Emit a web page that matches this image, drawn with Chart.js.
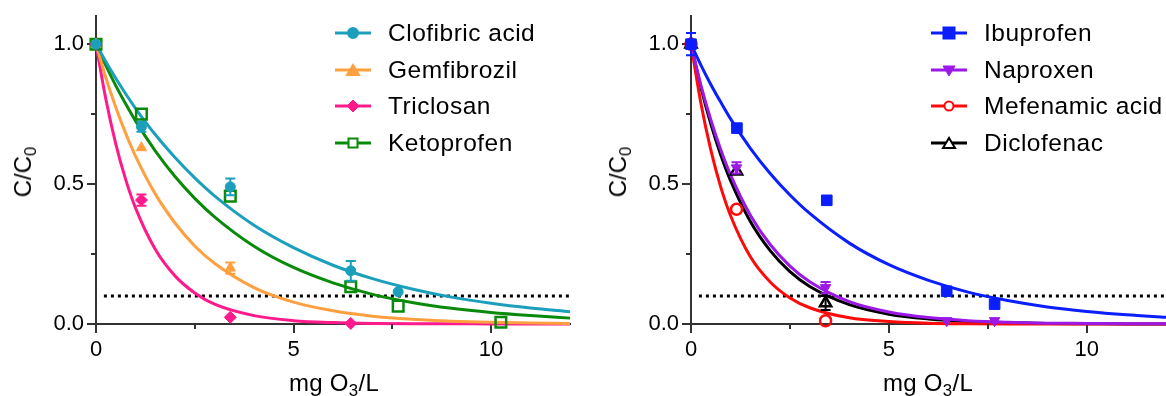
<!DOCTYPE html>
<html>
<head>
<meta charset="utf-8">
<script src="https://cdn.jsdelivr.net/npm/chart.js@4.4.1/dist/chart.umd.min.js"></script>
<style>
body { margin: 0; background: #fff; width: 1166px; height: 396px; overflow: hidden; position: relative;
       font-family: "Liberation Sans", Arial, sans-serif; color: #000; }
.wrap { position: absolute; top: 0; height: 396px; }
#leftWrap { left: 0; width: 595px; }
#rightWrap { left: 595px; width: 571px; }
.ytitle { position: absolute; left: 23px; top: 172px; font-size: 24px; white-space: nowrap;
          transform: translate(-50%, -50%) rotate(-90deg); }
.xtitle { position: absolute; top: 369px; font-size: 24px; letter-spacing: 0.3px; white-space: nowrap; transform: translateX(-50%); }
sub { font-size: 0.7em; vertical-align: -0.28em; line-height: 0; }
.legend { position: absolute; top: 15px; font-size: 24.5px; letter-spacing: 0.5px; }
.legend .row { height: 36.5px; display: flex; align-items: center; white-space: nowrap; }
.legend svg { width: 36px; height: 20px; margin-right: 17px; }
</style>
</head>
<body>
<div class="wrap" id="leftWrap">
  <canvas id="leftChart" width="595" height="396"></canvas>
  <div class="ytitle">C/C<sub>0</sub></div>
  <div class="xtitle" style="left:334px">mg O<sub>3</sub>/L</div>
  <div class="legend" id="leftLegend" style="left:335px"></div>
</div>
<div class="wrap" id="rightWrap">
  <canvas id="rightChart" width="571" height="396"></canvas>
  <div class="ytitle">C/C<sub>0</sub></div>
  <div class="xtitle" style="left:333px">mg O<sub>3</sub>/L</div>
  <div class="legend" id="rightLegend" style="left:336px"></div>
</div>
<script>
// pontos medidos (painel esquerdo)
const clofibricX = [0, 1.15, 3.4, 6.45, 7.65];
const clofibricY = [1.0, 0.705, 0.49, 0.19, 0.115];
const clofibricErr = [0, 0.018, 0.03, 0.035, 0];

const gemfibrozilX = [0, 1.15, 3.4];
const gemfibrozilY = [1.0, 0.63, 0.20];
const gemfibrozilErr = [0, 0, 0.02];

const triclosanX = [0, 1.15, 3.4, 6.45];
const triclosanY = [1.0, 0.443, 0.024, 0.002];
const triclosanErr = [0, 0.02, 0, 0];

const ketoprofenX = [0, 1.15, 3.4, 6.45, 7.65, 10.25];
const ketoprofenY = [1.0, 0.75, 0.457, 0.133, 0.064, 0.006];
const ketoprofenErr = [0, 0, 0, 0, 0, 0];

// pontos medidos (painel direito)
const ibuprofenX = [0, 1.16, 3.43, 6.46, 7.67];
const ibuprofenY = [1.0, 0.70, 0.442, 0.117, 0.071];
const ibuprofenErr = [0.04, 0, 0, 0, 0];

const naproxenX = [0, 1.15, 3.4, 6.46, 7.67];
const naproxenY = [1.0, 0.558, 0.13, 0.012, 0.012];
const naproxenErr = [0, 0.02, 0.02, 0, 0];

const mefenamicX = [0, 1.15, 3.4];
const mefenamicY = [1.0, 0.41, 0.012];
const mefenamicErr = [0, 0, 0];

const diclofenacX = [0, 1.15, 3.4];
const diclofenacY = [1.0, 0.546, 0.075];
const diclofenacErr = [0, 0, 0.025];

// curvas ajustadas
const curveX = [0, 0.25, 0.5, 0.75, 1, 1.5, 2, 2.5, 3, 4, 5, 6, 7, 8, 9, 10, 11, 12];
const clofibricFit = [1, 0.937, 0.878, 0.823, 0.771, 0.677, 0.595, 0.522, 0.458, 0.353, 0.273, 0.210, 0.162, 0.125, 0.096, 0.074, 0.057, 0.044];
const gemfibrozilFit = [1, 0.880, 0.775, 0.682, 0.600, 0.465, 0.361, 0.279, 0.217, 0.130, 0.078, 0.047, 0.028, 0.017, 0.010, 0.006, 0.004, 0.002];
const triclosanFit = [1, 0.803, 0.644, 0.517, 0.415, 0.267, 0.172, 0.111, 0.071, 0.030, 0.012, 0.005, 0.002, 0.001, 0.001, 0, 0, 0];
const ketoprofenFit = [1, 0.923, 0.852, 0.787, 0.726, 0.619, 0.527, 0.449, 0.383, 0.278, 0.202, 0.147, 0.106, 0.077, 0.056, 0.041, 0.030, 0.021];
const ibuprofenFit = [1, 0.925, 0.856, 0.793, 0.733, 0.628, 0.538, 0.461, 0.395, 0.289, 0.212, 0.156, 0.114, 0.084, 0.061, 0.045, 0.033, 0.024];
const naproxenFit = [1, 0.854, 0.730, 0.624, 0.533, 0.389, 0.284, 0.207, 0.151, 0.080, 0.043, 0.023, 0.012, 0.006, 0.003, 0.002, 0.001, 0.001];
const mefenamicFit = [1, 0.789, 0.622, 0.490, 0.387, 0.240, 0.150, 0.093, 0.058, 0.022, 0.009, 0.003, 0.001, 0, 0, 0, 0, 0];
const diclofenacFit = [1, 0.846, 0.715, 0.605, 0.512, 0.366, 0.262, 0.187, 0.134, 0.069, 0.035, 0.018, 0.009, 0.005, 0.002, 0.001, 0, 0];

// linha pontilhada de 10%
const thresholdX = [0.2, 12];
const thresholdY = [0.1, 0.1];

const xMajorTicks = [0, 5, 10];
const xMinorTicks = [2.5, 7.5];
const yMajorTicks = [0, 0.5, 1.0];
const yMinorTicks = [0.25, 0.75];

const leftSeries = [
    { label: 'Clofibric acid', color: '#1c9fbb', style: 'circle', radius: 5, fill: true, x: clofibricX, y: clofibricY, err: clofibricErr, fit: clofibricFit },
    { label: 'Gemfibrozil', color: '#ffa040', style: 'triangle', radius: 6, fill: true, x: gemfibrozilX, y: gemfibrozilY, err: gemfibrozilErr, fit: gemfibrozilFit },
    { label: 'Triclosan', color: '#ff1a8c', style: 'rectRot', radius: 6, fill: true, x: triclosanX, y: triclosanY, err: triclosanErr, fit: triclosanFit },
    { label: 'Ketoprofen', color: '#0a8a0a', style: 'rect', radius: 7.5, fill: false, x: ketoprofenX, y: ketoprofenY, err: ketoprofenErr, fit: ketoprofenFit }
];

const rightSeries = [
    { label: 'Ibuprofen', color: '#0a1eff', style: 'rect', radius: 7.5, fill: true, x: ibuprofenX, y: ibuprofenY, err: ibuprofenErr, fit: ibuprofenFit },
    { label: 'Naproxen', color: '#9b19e6', style: 'triangle', rotation: 180, radius: 6, fill: true, x: naproxenX, y: naproxenY, err: naproxenErr, fit: naproxenFit },
    { label: 'Mefenamic acid', color: '#ff0a0a', style: 'circle', radius: 5.5, fill: false, x: mefenamicX, y: mefenamicY, err: mefenamicErr, fit: mefenamicFit },
    { label: 'Diclofenac', color: '#000000', style: 'triangle', radius: 6.5, fill: false, x: diclofenacX, y: diclofenacY, err: diclofenacErr, fit: diclofenacFit }
];

const axisColor = '#333';

// barras de erro desenhadas logo antes dos marcadores
const errorBarPlugin = {
    id: 'errorBars',
    beforeDatasetDraw(chart, args) {
        const ds = chart.data.datasets[args.index];
        if (!ds.errorBars) return;
        const ctx = chart.ctx, xs = chart.scales.x, ys = chart.scales.y;
        ctx.save();
        ctx.strokeStyle = ds.borderColor;
        ctx.lineWidth = 2;
        ds.data.forEach((p, i) => {
            const e = ds.errorBars[i];
            if (!e) return;
            const px = xs.getPixelForValue(p.x);
            const top = ys.getPixelForValue(p.y + e);
            const bot = ys.getPixelForValue(p.y - e);
            ctx.beginPath();
            ctx.moveTo(px, top); ctx.lineTo(px, bot);
            ctx.moveTo(px - 5, top); ctx.lineTo(px + 5, top);
            ctx.moveTo(px - 5, bot); ctx.lineTo(px + 5, bot);
            ctx.stroke();
        });
        ctx.restore();
    }
};

// ticks menores
const minorTickPlugin = {
    id: 'minorTicks',
    afterDraw(chart) {
        const ctx = chart.ctx, xs = chart.scales.x, ys = chart.scales.y;
        const area = chart.chartArea;
        ctx.save();
        ctx.strokeStyle = axisColor;
        ctx.lineWidth = 2;
        ctx.beginPath();
        xMinorTicks.forEach(v => {
            const px = Math.round(xs.getPixelForValue(v));
            ctx.moveTo(px, area.bottom); ctx.lineTo(px, area.bottom + 5);
        });
        yMinorTicks.forEach(v => {
            const py = Math.round(ys.getPixelForValue(v));
            ctx.moveTo(area.left, py); ctx.lineTo(area.left - 5, py);
        });
        ctx.stroke();
        ctx.restore();
    }
};

function toPoints(xs, ys) {
    return xs.map((x, i) => ({ x: x, y: ys[i] }));
}

function buildDatasets(series) {
    const points = series.map(s => ({
        data: toPoints(s.x, s.y),
        showLine: false,
        borderColor: s.color,
        backgroundColor: s.fill ? s.color : 'rgba(0,0,0,0)',
        pointStyle: s.style,
        pointRotation: s.rotation || 0,
        pointRadius: s.radius,
        pointBorderWidth: s.fill ? 1 : 2.5,
        pointHoverRadius: s.radius,
        errorBars: s.err,
        clip: false
    }));
    const curves = series.map(s => ({
        data: toPoints(curveX, s.fit),
        showLine: true,
        borderColor: s.color,
        borderWidth: 3,
        pointRadius: 0,
        cubicInterpolationMode: 'monotone',
        clip: false
    }));
    const threshold = {
        data: toPoints(thresholdX, thresholdY),
        showLine: true,
        borderColor: '#000',
        borderWidth: 3,
        borderDash: [3, 4],
        pointRadius: 0,
        clip: false
    };
    return points.concat(curves, [threshold]);
}

function makeChart(canvasId, series, rightPad) {
    const ctx = document.getElementById(canvasId).getContext('2d');
    return new Chart(ctx, {
        type: 'scatter',
        data: { datasets: buildDatasets(series) },
        options: {
            responsive: false,
            animation: false,
            events: [],
            layout: { autoPadding: false, padding: { top: 14, right: rightPad, left: 0, bottom: 0 } },
            plugins: { legend: { display: false }, tooltip: { enabled: false } },
            scales: {
                x: {
                    type: 'linear', min: 0, max: 12,
                    afterBuildTicks: scale => { scale.ticks = xMajorTicks.map(v => ({ value: v })); },
                    afterFit: scale => { scale.height = 72; },
                    ticks: { color: '#000', font: { family: 'Liberation Sans', size: 22 }, padding: 4,
                             callback: v => String(v) },
                    grid: { display: true, drawOnChartArea: false, drawTicks: true, tickLength: 9, color: axisColor, lineWidth: 2 },
                    border: { display: true, color: axisColor, width: 2 }
                },
                y: {
                    type: 'linear', min: 0, max: 1.1,
                    afterBuildTicks: scale => { scale.ticks = yMajorTicks.map(v => ({ value: v })); },
                    afterFit: scale => { scale.width = 96; },
                    ticks: { color: '#000', font: { family: 'Liberation Sans', size: 22 }, padding: 3,
                             callback: v => v.toFixed(1) },
                    grid: { display: true, drawOnChartArea: false, drawTicks: true, tickLength: 9, color: axisColor, lineWidth: 2 },
                    border: { display: true, color: axisColor, width: 2 }
                }
            }
        },
        plugins: [errorBarPlugin, minorTickPlugin]
    });
}

function markerSvg(s) {
    const c = s.color;
    const fill = s.fill ? c : 'none';
    const cx = 18, cy = 10;
    let shape = '';
    if (s.style === 'circle') {
        shape = `<circle cx="${cx}" cy="${cy}" r="${s.fill ? 5 : 4.5}" fill="${s.fill ? c : '#fff'}" stroke="${c}" stroke-width="2"/>`;
    } else if (s.style === 'rect') {
        const h = s.fill ? 5.5 : 4.5;
        shape = `<rect x="${cx - h}" y="${cy - h}" width="${2 * h}" height="${2 * h}" fill="${s.fill ? c : '#fff'}" stroke="${c}" stroke-width="2"/>`;
    } else if (s.style === 'rectRot') {
        shape = `<polygon points="${cx},${cy - 6} ${cx + 6},${cy} ${cx},${cy + 6} ${cx - 6},${cy}" fill="${fill}" stroke="${c}" stroke-width="1"/>`;
    } else if (s.style === 'triangle' && s.rotation === 180) {
        shape = `<polygon points="${cx - 6},${cy - 4} ${cx + 6},${cy - 4} ${cx},${cy + 6}" fill="${fill}" stroke="${c}" stroke-width="1"/>`;
    } else {
        shape = `<polygon points="${cx - 6},${cy + 5} ${cx + 6},${cy + 5} ${cx},${cy - 5}" fill="${s.fill ? c : '#fff'}" stroke="${c}" stroke-width="2"/>`;
    }
    return `<svg viewBox="0 0 36 20"><line x1="0" y1="${cy}" x2="36" y2="${cy}" stroke="${c}" stroke-width="3"/>${shape}</svg>`;
}

function buildLegend(elId, series) {
    const el = document.getElementById(elId);
    el.innerHTML = series.map(s => `<div class="row">${markerSvg(s)}<span>${s.label}</span></div>`).join('');
}

makeChart('leftChart', leftSeries, 25);
makeChart('rightChart', rightSeries, 0);
buildLegend('leftLegend', leftSeries);
buildLegend('rightLegend', rightSeries);
</script>
</body>
</html>
